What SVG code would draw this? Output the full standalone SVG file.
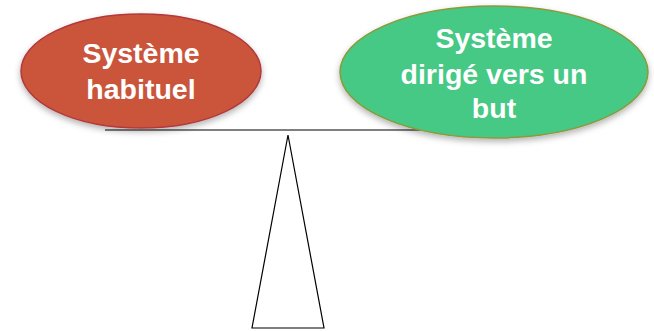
<svg xmlns="http://www.w3.org/2000/svg" width="654" height="331" viewBox="0 0 654 331">
<style>
.t{font-family:"Liberation Sans",Arial,sans-serif;font-weight:bold;font-size:28.5px;fill:#fff;text-anchor:middle}
.ln{stroke:#000;stroke-width:1.2;fill:none}
</style>
<defs>
<filter id="sh" x="-20%" y="-20%" width="140%" height="150%">
<feDropShadow dx="0" dy="3" stdDeviation="3" flood-color="#000" flood-opacity="0.3"/>
</filter>
</defs>
<rect width="654" height="331" fill="#fff"/>
<g id="connectors">
<line class="ln" x1="105" y1="130" x2="420" y2="130" stroke="#333"/>
<polygon class="ln" points="288,135 252,328 324,328"/>
</g>
<g id="habituel">
<ellipse cx="141" cy="71" rx="120" ry="57" fill="#CA553B" stroke="#B2393B" stroke-width="1.5" filter="url(#sh)"/>
<text class="t" x="141" y="63">Système</text>
<text class="t" x="141" y="99">habituel</text>
</g>
<g id="but">
<ellipse cx="494" cy="72" rx="154" ry="66" fill="#45C984" stroke="#8C9A3B" stroke-width="1.5" filter="url(#sh)"/>
<text class="t" x="494" y="48">Système</text>
<text class="t" x="494" y="84">dirigé vers un</text>
<text class="t" x="494" y="118">but</text>
</g>
</svg>
